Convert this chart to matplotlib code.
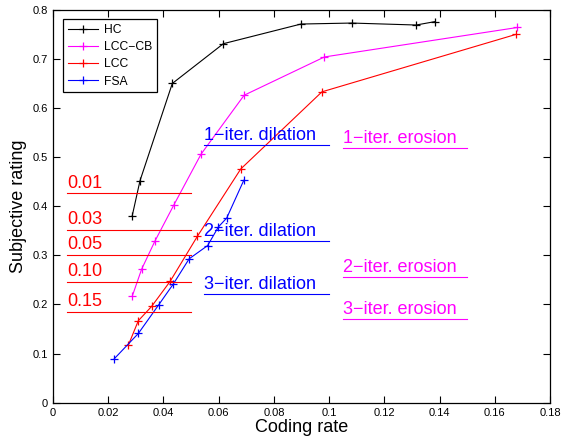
import numpy as np
import matplotlib.pyplot as plt

plt.rcParams['font.family'] = ['Liberation Sans', 'DejaVu Sans']

# --- Data ---
hc_x = [0.0287, 0.0315, 0.0432, 0.0617, 0.0898, 0.1082, 0.1315, 0.1384]
hc_y = [0.381, 0.452, 0.650, 0.731, 0.771, 0.773, 0.769, 0.776]

lcccb_x = [0.0287, 0.0321, 0.0369, 0.0437, 0.0536, 0.0692, 0.0983, 0.1682]
lcccb_y = [0.217, 0.272, 0.329, 0.402, 0.506, 0.626, 0.704, 0.764]

lcc_x = [0.0273, 0.0309, 0.0357, 0.0424, 0.0523, 0.0680, 0.0974, 0.1677]
lcc_y = [0.1175, 0.167, 0.196, 0.247, 0.339, 0.476, 0.633, 0.750]

fsa_x = [0.0222, 0.0309, 0.0383, 0.0436, 0.0493, 0.0560, 0.0599, 0.0629, 0.0691]
fsa_y = [0.0896, 0.141, 0.1995, 0.242, 0.293, 0.320, 0.358, 0.376, 0.453]

# threshold annotations (red)
thr_labels = ['0.01', '0.03', '0.05', '0.10', '0.15']
thr_y = [0.426, 0.351, 0.301, 0.245, 0.184]
thr_x = [0.005, 0.050]

# dilation annotations (blue)
dil_labels = ['1\u2212iter. dilation', '2\u2212iter. dilation', '3\u2212iter. dilation']
dil_y = [0.524, 0.329, 0.221]
dil_x = [0.0547, 0.100]

# erosion annotations (magenta)
ero_labels = ['1\u2212iter. erosion', '2\u2212iter. erosion', '3\u2212iter. erosion']
ero_y = [0.518, 0.255, 0.170]
ero_x = [0.105, 0.150]

# --- Plotting ---
fig = plt.figure(figsize=(5.61, 4.41), dpi=100)
ax = fig.add_axes([0.0945, 0.0868, 0.886, 0.891])

kw = dict(marker='+', markersize=6, linewidth=0.8, markeredgewidth=0.9)
ax.plot(hc_x, hc_y, color='k', label='HC', **kw)
ax.plot(lcccb_x, lcccb_y, color='#ff00ff', label='LCC\u2212CB', **kw)
ax.plot(lcc_x, lcc_y, color='r', label='LCC', **kw)
ax.plot(fsa_x, fsa_y, color='b', label='FSA', **kw)

for lab, y in zip(thr_labels, thr_y):
    ax.plot(thr_x, [y, y], color='r', linewidth=0.8)
    ax.text(thr_x[0], y + 0.004, lab, color='r', fontsize=13, va='bottom', ha='left')

for lab, y in zip(dil_labels, dil_y):
    ax.plot(dil_x, [y, y], color='b', linewidth=0.8)
    ax.text(dil_x[0], y + 0.003, lab, color='b', fontsize=13, va='bottom', ha='left')

for lab, y in zip(ero_labels, ero_y):
    ax.plot(ero_x, [y, y], color='#ff00ff', linewidth=0.8)
    ax.text(ero_x[0], y + 0.003, lab, color='#ff00ff', fontsize=13, va='bottom', ha='left')

ax.set_xlim(0, 0.18)
ax.set_ylim(0, 0.8)
ax.set_xticks(np.arange(0, 0.181, 0.02))
ax.set_yticks(np.arange(0, 0.81, 0.1))
ax.set_xticklabels(['0', '0.02', '0.04', '0.06', '0.08', '0.1', '0.12', '0.14', '0.16', '0.18'])
ax.set_yticklabels(['0', '0.1', '0.2', '0.3', '0.4', '0.5', '0.6', '0.7', '0.8'])
ax.tick_params(direction='in', top=True, right=True, length=5, width=0.8, labelsize=8)
for s in ax.spines.values():
    s.set_linewidth(0.9)

ax.set_xlabel('Coding rate', fontsize=13, labelpad=1)
ax.set_ylabel('Subjective rating', fontsize=13, labelpad=4)

leg = ax.legend(loc='upper left', fontsize=8.7, fancybox=False, framealpha=1,
                edgecolor='k', borderaxespad=0.8, handlelength=2.5,
                handletextpad=0.5, labelspacing=0.42, borderpad=0.4)
leg.get_frame().set_linewidth(0.9)

plt.savefig('out.png', dpi=100)
